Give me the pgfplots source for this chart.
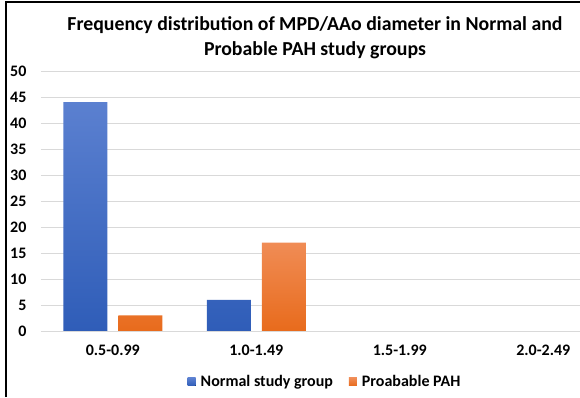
\documentclass[border=0pt]{standalone}
\usepackage{pgfplots}
\pgfplotsset{compat=1.18}
\usepackage{fontspec}
\setmainfont{Carlito}
\definecolor{bluetop}{HTML}{5B80D0}
\definecolor{bluebot}{HTML}{2F5DB8}
\definecolor{orgtop}{HTML}{F08C55}
\definecolor{orgbot}{HTML}{E86B1C}
\definecolor{gridc}{HTML}{D9D9D9}
\begin{document}
\begin{tikzpicture}[x=1pt,y=1pt]
\useasboundingbox (-41,-66) rectangle (539,331);
\begin{axis}[
  at={(0,0)}, anchor=south west,
  scale only axis, width=539pt, height=260pt,
  xmin=-0.5, xmax=3.256, ymin=0, ymax=50,
  ybar=11pt, bar width=44pt,
  xtick={0,1,2,3},
  xticklabels={0.5-0.99,1.0-1.49,1.5-1.99,2.0-2.49},
  ytick={0,5,...,50},
  axis line style={draw=none},
  major tick length=0pt,
  ymajorgrids, grid style={gridc, line width=0.8pt},
  tick label style={font=\bfseries\fontsize{16}{18}\selectfont, text=black},
  /pgf/number format/assume math mode=true,
  yticklabel style={anchor=east, xshift=-11pt},
  xticklabel style={yshift=-10pt},
  legend style={at={(axis description cs:0.527,-0.196)}, anchor=center, draw=none,
    font=\bfseries\fontsize{16}{18}\selectfont, legend columns=2,
    /tikz/every even column/.append style={column sep=14pt}},
  legend image code/.code={\fill[#1] (0pt,-4pt) rectangle (8pt,4pt); \path (0pt,0pt) -- (11pt,0pt);},
  clip=false,
]
\addplot[draw=none, top color=bluetop, bottom color=bluebot] coordinates {(0,44) (1,6) (2,0) (3,0)};
\addplot[draw=none, top color=orgtop, bottom color=orgbot] coordinates {(0,3) (1,17) (2,0) (3,0)};
\draw[gridc, line width=0.8pt] (axis cs:-0.5,0) -- (axis cs:3.256,0);
\legend{Normal study group, Proabable PAH}
\end{axis}
\node[align=center, font=\bfseries\fontsize{19.8}{25}\selectfont] at (274,293.5) {Frequency distribution of MPD/AAo diameter in Normal and\\Probable PAH study groups};
\draw[line width=1.3pt] (-35,-66) -- (-35,329) -- (539,329);
\end{tikzpicture}
\end{document}
